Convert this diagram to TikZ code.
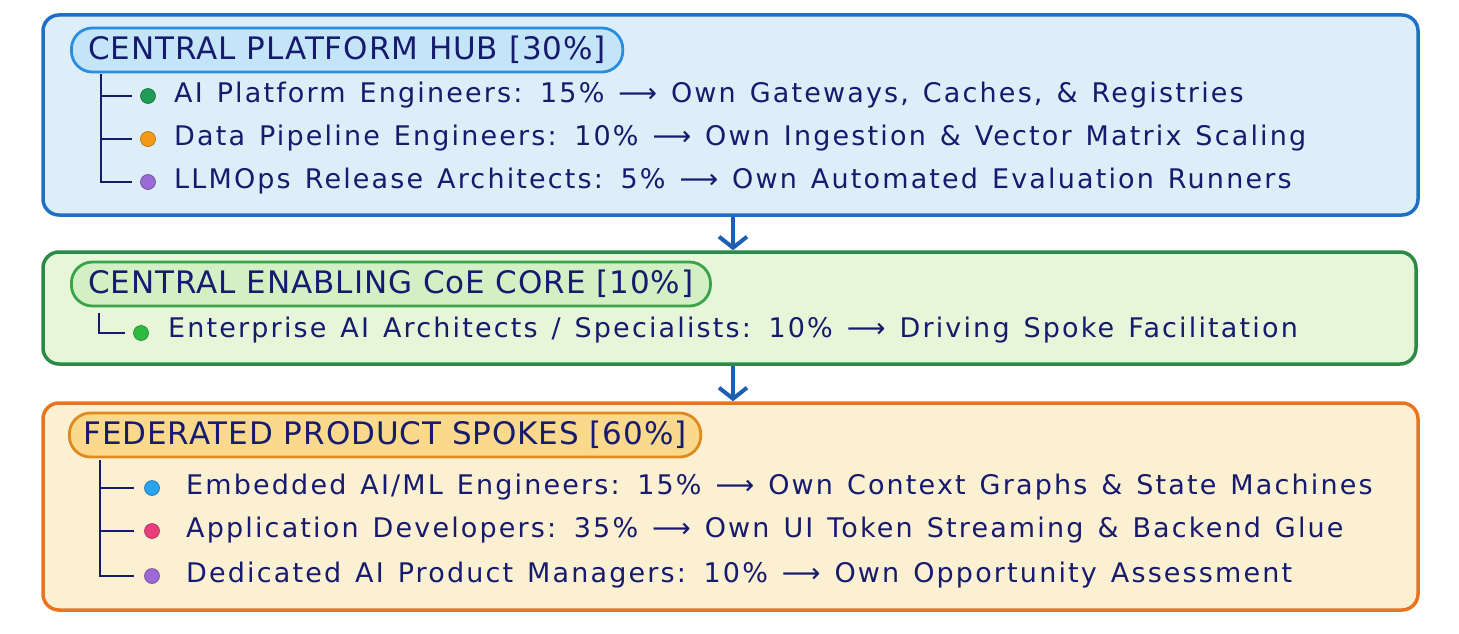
\documentclass[tikz,border=0pt]{standalone}
\usepackage{fontspec}
\setmainfont{DejaVu Sans}
\newfontfamily\itemfont[LetterSpace=8,WordSpace=1.3]{DejaVu Sans}
\newfontfamily\titlefont[LetterSpace=3]{DejaVu Sans}
\usetikzlibrary{arrows.meta}
\definecolor{ink}{HTML}{161B6E}
\definecolor{bStroke}{HTML}{1F6FC5}
\definecolor{bFill}{HTML}{DDEEF9}
\definecolor{bPillFill}{HTML}{C4E4F8}
\definecolor{bPillStroke}{HTML}{2A8EE0}
\definecolor{gStroke}{HTML}{2B8A45}
\definecolor{gFill}{HTML}{E7F6D9}
\definecolor{gPillFill}{HTML}{D2F0C3}
\definecolor{gPillStroke}{HTML}{3AA34A}
\definecolor{oStroke}{HTML}{E8751E}
\definecolor{oFill}{HTML}{FCF0D3}
\definecolor{oPillFill}{HTML}{FAD98C}
\definecolor{oPillStroke}{HTML}{E08A1E}
\definecolor{dGreen}{HTML}{1E9C55}
\definecolor{dOrange}{HTML}{F49A16}
\definecolor{dPurple}{HTML}{9B6AD6}
\definecolor{dLime}{HTML}{2DBB3F}
\definecolor{dBlue}{HTML}{2AA4EE}
\definecolor{dPink}{HTML}{E83F7C}
\definecolor{arrowBlue}{HTML}{1F5FB0}
\tikzset{
  panel/.style={draw=#1, line width=3.5pt, rounded corners=16pt, inner sep=0pt},
  pill/.style={line width=2.8pt, rounded corners=21pt, minimum height=44pt, inner xsep=17pt, inner ysep=0pt, text=ink, font=\titlefont\fontsize{31}{34}\selectfont},
  item/.style={anchor=west, text=ink, inner sep=0pt, font=\itemfont\fontsize{27}{30}\selectfont},
  dot/.style={circle, fill=#1, draw=#1!70!black, line width=0.6pt, minimum size=15pt, inner sep=0pt},
  tree/.style={draw=ink, line width=2.2pt},
  flow/.style={draw=arrowBlue, line width=4pt, -{Straight Barb[length=11pt, width=28pt, line width=4pt]}}
}
\begin{document}
\begin{tikzpicture}[x=1pt, y=-1pt]
\useasboundingbox[fill=white] (0,0) rectangle (1459,634);
% panels
\node[panel=bStroke, fill=bFill, minimum width=1375pt, minimum height=200pt] (hub) at (730.5,115) {};
\node[panel=gStroke, fill=gFill, minimum width=1373pt, minimum height=112pt] (coe) at (729.5,308) {};
\node[panel=oStroke, fill=oFill, minimum width=1375pt, minimum height=207pt] (spk) at (730.5,506.5) {};
% titles
\node[pill, draw=bPillStroke, fill=bPillFill, anchor=west] (hubT) at (70,50) {CENTRAL PLATFORM HUB [30\%]};
\node[pill, draw=gPillStroke, fill=gPillFill, anchor=west] (coeT) at (70,284) {CENTRAL ENABLING CoE CORE [10\%]};
\node[pill, draw=oPillStroke, fill=oPillFill, anchor=west, inner xsep=14pt] (spkT) at (68,435) {FEDERATED PRODUCT SPOKES [60\%]};
% hub items
\node[dot=dGreen] (h1d) at (148,96) {};
\node[dot=dOrange] (h2d) at (148,139) {};
\node[dot=dPurple] (h3d) at (148,182) {};
\node[item] (h1) at (174,95) {AI Platform Engineers: 15\% ⟶ Own Gateways, Caches, \& Registries};
\node[item] (h2) at (174,138) {Data Pipeline Engineers: 10\% ⟶ Own Ingestion \& Vector Matrix Scaling};
\node[item] (h3) at (174,181) {LLMOps Release Architects: 5\% ⟶ Own Automated Evaluation Runners};
\coordinate (hr) at (101,74);
\draw[tree] (hr) |- ([xshift=-8pt]h3d.west);
\draw[tree] (hr |- h1d) -- ([xshift=-8pt]h1d.west);
\draw[tree] (hr |- h2d) -- ([xshift=-8pt]h2d.west);
% coe item
\node[dot=dLime] (c1d) at (141,333) {};
\node[item] (c1) at (168,330) {Enterprise AI Architects / Specialists: 10\% ⟶ Driving Spoke Facilitation};
\coordinate (cr) at (99,313);
\draw[tree] (cr) |- ([xshift=-8pt]c1d.west);
% spoke items
\node[dot=dBlue] (s1d) at (152,488) {};
\node[dot=dPink] (s2d) at (152,531) {};
\node[dot=dPurple] (s3d) at (152,576) {};
\node[item] (s1) at (186,487) {Embedded AI/ML Engineers: 15\% ⟶ Own Context Graphs \& State Machines};
\node[item] (s2) at (186,530) {Application Developers: 35\% ⟶ Own UI Token Streaming \& Backend Glue};
\node[item] (s3) at (186,575) {Dedicated AI Product Managers: 10\% ⟶ Own Opportunity Assessment};
\coordinate (sr) at (100,460);
\draw[tree] (sr) |- ([xshift=-10pt]s3d.west);
\draw[tree] (sr |- s1d) -- ([xshift=-10pt]s1d.west);
\draw[tree] (sr |- s2d) -- ([xshift=-10pt]s2d.west);
% flow arrows
\draw[flow] ([xshift=2.5pt]hub.south) -- ([xshift=3.5pt]coe.north);
\draw[flow] ([xshift=3.5pt]coe.south) -- ([xshift=2.5pt]spk.north);
\end{tikzpicture}
\end{document}
